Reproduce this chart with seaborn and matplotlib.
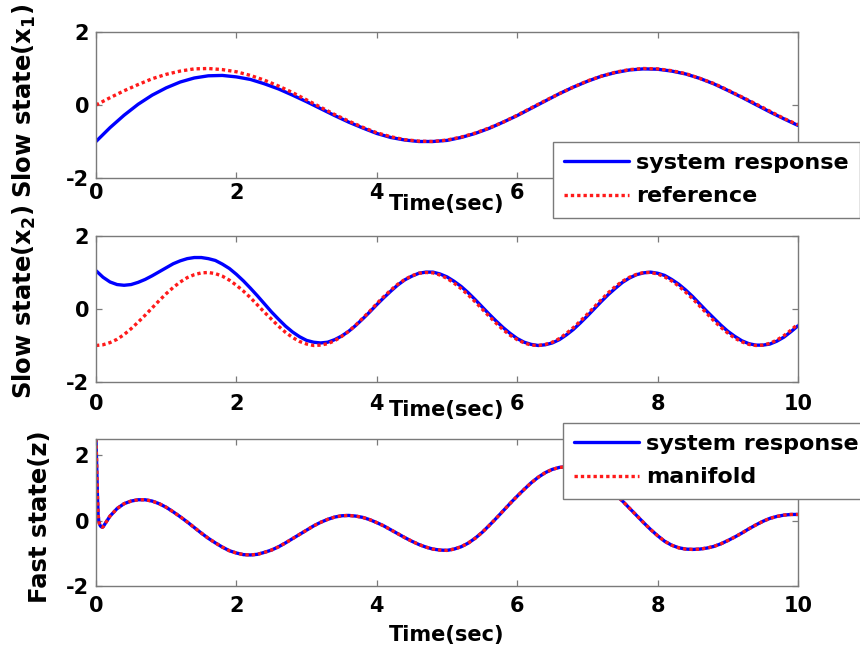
import numpy as np
import pandas as pd
import seaborn as sns
import matplotlib
matplotlib.use("Agg")
import matplotlib.pyplot as plt
from matplotlib.lines import Line2D

# ---------------------------------------------------------------- data
# slow state x1 sampled every 0.2 s
t_x1 = np.round(np.arange(0, 10.001, 0.2), 1)
x1_response = [-1.00, -0.62, -0.28, 0.02, 0.27, 0.47, 0.63, 0.74, 0.80, 0.81,
               0.77, 0.70, 0.58, 0.44, 0.27, 0.09, -0.10, -0.29, -0.47, -0.63,
               -0.78, -0.89, -0.96, -1.00, -1.00, -0.97, -0.89, -0.78, -0.64, -0.47,
               -0.29, -0.09, 0.11, 0.31, 0.49, 0.65, 0.79, 0.89, 0.96, 0.99,
               0.98, 0.93, 0.85, 0.73, 0.58, 0.40, 0.21, 0.01, -0.19, -0.38, -0.56]
x1_reference = [0.00, 0.20, 0.39, 0.56, 0.72, 0.84, 0.93, 0.99, 1.00, 0.97,
                0.91, 0.81, 0.68, 0.52, 0.34, 0.14, -0.06, -0.26, -0.44, -0.61,
                -0.76, -0.87, -0.95, -0.99, -1.00, -0.96, -0.88, -0.77, -0.63, -0.47,
                -0.28, -0.08, 0.12, 0.31, 0.49, 0.66, 0.79, 0.90, 0.97, 1.00,
                0.99, 0.94, 0.86, 0.73, 0.59, 0.41, 0.22, 0.03, -0.17, -0.37, -0.54]

# slow state x2 sampled every 0.1 s
t_x2 = np.round(np.arange(0, 10.001, 0.1), 1)
x2_response = [1.05, 0.87, 0.74, 0.67, 0.65, 0.67, 0.73, 0.81, 0.91, 1.02,
               1.13, 1.24, 1.32, 1.38, 1.41, 1.41, 1.38, 1.33, 1.23, 1.11,
               0.95, 0.77, 0.57, 0.36, 0.14, -0.08, -0.28, -0.47, -0.63, -0.76,
               -0.86, -0.91, -0.93, -0.91, -0.84, -0.74, -0.61, -0.45, -0.27, -0.08,
               0.12, 0.31, 0.49, 0.66, 0.80, 0.90, 0.98, 1.01, 1.01, 0.96,
               0.88, 0.76, 0.62, 0.45, 0.26, 0.06, -0.14, -0.33, -0.51, -0.67,
               -0.81, -0.91, -0.97, -1.00, -0.98, -0.93, -0.84, -0.71, -0.56, -0.38,
               -0.19, 0.01, 0.21, 0.40, 0.57, 0.73, 0.85, 0.94, 0.99, 1.01,
               0.98, 0.92, 0.81, 0.68, 0.52, 0.34, 0.14, -0.06, -0.25, -0.44,
               -0.61, -0.75, -0.87, -0.95, -0.99, -0.99, -0.96, -0.88, -0.77, -0.62,
               -0.46]
x2_reference = [-1.00, -0.98, -0.92, -0.83, -0.70, -0.54, -0.36, -0.17, 0.03, 0.23,
                0.42, 0.59, 0.74, 0.86, 0.94, 0.99, 1.00, 0.97, 0.90, 0.79,
                0.65, 0.49, 0.31, 0.11, -0.09, -0.28, -0.47, -0.64, -0.78, -0.89,
                -0.96, -1.00, -0.99, -0.95, -0.87, -0.75, -0.61, -0.44, -0.25, -0.06,
                0.15, 0.34, 0.52, 0.68, 0.81, 0.91, 0.98, 1.00, 0.99, 0.93,
                0.84, 0.71, 0.56, 0.39, 0.20, 0.00, -0.20, -0.39, -0.57, -0.72,
                -0.84, -0.93, -0.99, -1.00, -0.97, -0.91, -0.81, -0.67, -0.51, -0.33,
                -0.14, 0.06, 0.26, 0.45, 0.62, 0.76, 0.87, 0.95, 1.00, 1.00,
                0.96, 0.88, 0.77, 0.63, 0.46, 0.28, 0.08, -0.12, -0.32, -0.50,
                -0.66, -0.80, -0.90, -0.97, -1.00, -0.99, -0.94, -0.85, -0.73, -0.58,
                -0.41]

# fast state z: fine samples over the initial transient, then every 0.1 s
t_z = np.concatenate([[0.0, 0.01, 0.02, 0.03, 0.04, 0.05, 0.06, 0.07, 0.08, 0.09],
                      np.round(np.arange(0.1, 10.001, 0.1), 1)])
z_response = [2.50, 1.70, 0.80, 0.20, -0.02, -0.10, -0.15, -0.18, -0.19, -0.20,
              -0.19, 0.14, 0.37, 0.52, 0.60, 0.64, 0.64, 0.60, 0.52,
              0.41, 0.27, 0.12, -0.04, -0.21, -0.38, -0.54, -0.68, -0.81, -0.92,
              -0.99, -1.04, -1.05, -1.03, -0.97, -0.90, -0.80, -0.68, -0.55, -0.42,
              -0.29, -0.16, -0.05, 0.04, 0.11, 0.15, 0.16, 0.14, 0.10, 0.03,
              -0.06, -0.16, -0.28, -0.40, -0.52, -0.63, -0.73, -0.81, -0.87, -0.90,
              -0.91, -0.87, -0.80, -0.69, -0.54, -0.36, -0.15, 0.07, 0.30, 0.53,
              0.75, 0.96, 1.16, 1.33, 1.47, 1.57, 1.63, 1.65, 1.63, 1.57,
              1.47, 1.33, 1.17, 0.99, 0.80, 0.60, 0.38, 0.16, -0.06, -0.27,
              -0.46, -0.63, -0.75, -0.83, -0.87, -0.88, -0.87, -0.84, -0.79, -0.71,
              -0.61, -0.50, -0.38, -0.25, -0.13, -0.02, 0.07, 0.13, 0.17, 0.19,
              0.19]
z_manifold = [2.50, 1.70, 0.80, 0.20, -0.02, -0.10, -0.15, -0.18, -0.19, -0.20,
              -0.19, 0.14, 0.37, 0.52, 0.60, 0.64, 0.64, 0.60, 0.52,
              0.41, 0.27, 0.12, -0.04, -0.21, -0.38, -0.54, -0.68, -0.81, -0.92,
              -0.99, -1.04, -1.05, -1.03, -0.97, -0.90, -0.80, -0.68, -0.55, -0.42,
              -0.29, -0.16, -0.05, 0.04, 0.11, 0.15, 0.16, 0.14, 0.10, 0.03,
              -0.06, -0.16, -0.28, -0.40, -0.52, -0.63, -0.73, -0.81, -0.87, -0.90,
              -0.91, -0.87, -0.80, -0.69, -0.54, -0.36, -0.15, 0.07, 0.30, 0.53,
              0.75, 0.96, 1.16, 1.33, 1.47, 1.57, 1.63, 1.65, 1.63, 1.57,
              1.47, 1.33, 1.17, 0.99, 0.80, 0.60, 0.38, 0.16, -0.06, -0.27,
              -0.46, -0.63, -0.75, -0.83, -0.87, -0.88, -0.87, -0.84, -0.79, -0.71,
              -0.61, -0.50, -0.38, -0.25, -0.13, -0.02, 0.07, 0.13, 0.17, 0.19,
              0.19]

x_ticks = [0, 2, 4, 6, 8, 10]
y_ticks = [-2, 0, 2]
legend_top = ["system response", "reference"]
legend_bottom = ["system response", "manifold"]
x_label = "Time(sec)"
y_labels = [r"Slow state(x$_\mathbf{1}$)", r"Slow state(x$_\mathbf{2}$)", "Fast state(z)"]

# ---------------------------------------------------------------- style
sns.set_theme(style="white")
plt.rcParams["font.family"] = ["DejaVu Sans"]
plt.rcParams["font.weight"] = "bold"
plt.rcParams["axes.labelweight"] = "bold"
plt.rcParams["mathtext.default"] = "bf"
plt.rcParams["text.color"] = "black"
plt.rcParams["axes.labelcolor"] = "black"
plt.rcParams["xtick.labelcolor"] = "black"
plt.rcParams["ytick.labelcolor"] = "black"

BLUE = "#0000ff"
RED = "#ff1a1a"
GRAY = "#7a7a7a"
LW = 2.4
DOTS = (0, (1.0, 0.9))

fig = plt.figure(figsize=(8.6, 6.6), dpi=100)
W, H = 860, 660


def add_axes(top_px, bottom_px):
    left, right = 96, 798
    return fig.add_axes([left / W, 1 - bottom_px / H,
                         (right - left) / W, (bottom_px - top_px) / H])


ax1 = add_axes(32, 178)
ax2 = add_axes(236, 382)
ax3 = add_axes(439, 586)


def draw(ax, t, resp, ref):
    df = pd.DataFrame({"t": t, "resp": resp, "ref": ref})
    sns.lineplot(data=df, x="t", y="resp", ax=ax, color=BLUE, linewidth=LW,
                 estimator=None, sort=False)
    sns.lineplot(data=df, x="t", y="ref", ax=ax, color=RED, linewidth=LW,
                 linestyle=DOTS, estimator=None, sort=False)


draw(ax1, t_x1, x1_response, x1_reference)
draw(ax2, t_x2, x2_response, x2_reference)
draw(ax3, t_z, z_response, z_manifold)

limits = [(-2, 2), (-2, 2), (-2, 2.5)]
xpads = [3.5, 9, 7.5]
for ax, ylim, pad in zip([ax1, ax2, ax3], limits, xpads):
    ax.set_xlim(0, 10)
    ax.set_ylim(*ylim)
    ax.set_xticks(x_ticks)
    ax.set_yticks(y_ticks)
    ax.set_xticklabels([str(v) for v in x_ticks])
    ax.set_yticklabels([str(v) for v in y_ticks])
    for sp in ax.spines.values():
        sp.set_visible(True)
        sp.set_color(GRAY)
        sp.set_linewidth(1.0)
    ax.tick_params(axis="both", direction="in", length=4, width=0.9,
                   color=GRAY, labelsize=15, labelcolor="black",
                   top=True, right=True, bottom=True, left=True)
    ax.tick_params(axis="x", pad=pad)
    ax.tick_params(axis="y", pad=5)
    for lab in ax.get_xticklabels() + ax.get_yticklabels():
        lab.set_fontweight("bold")
    ax.set_xlabel(x_label, fontsize=15, fontweight="bold", color="black")
    ax.grid(False)

ax1.xaxis.set_label_coords(0.5, -0.11)
ax2.xaxis.set_label_coords(0.5, -0.125)
ax3.xaxis.set_label_coords(0.5, -0.265)

for ax, text in zip([ax1, ax2, ax3], y_labels):
    ax.set_ylabel(text, fontsize=17.5, fontweight="bold", color="black")
ax1.yaxis.set_label_coords(-0.083, 0.53)
ax2.yaxis.set_label_coords(-0.083, 0.55)
ax3.yaxis.set_label_coords(-0.062, 0.47)


def handles():
    return [Line2D([], [], color=BLUE, linewidth=LW),
            Line2D([], [], color=RED, linewidth=LW, linestyle=DOTS)]


legend_kw = dict(loc="upper left", bbox_transform=fig.transFigure,
                 frameon=True, fancybox=False, framealpha=1.0,
                 edgecolor=GRAY, facecolor="white",
                 prop={"size": 16, "weight": "bold"},
                 handlelength=2.9, handletextpad=0.35,
                 labelspacing=0.6, borderpad=0.5, borderaxespad=0.0)

leg1 = ax1.legend(handles(), legend_top, bbox_to_anchor=(553 / W, 1 - 142 / H),
                  **legend_kw)
leg2 = ax3.legend(handles(), legend_bottom, bbox_to_anchor=(563 / W, 1 - 423 / H),
                  **legend_kw)
for leg in (leg1, leg2):
    leg.get_frame().set_linewidth(1.0)
    leg.set_zorder(10)
    for txt in leg.get_texts():
        txt.set_color("black")

fig.savefig("out.png", dpi=100, facecolor="white")
